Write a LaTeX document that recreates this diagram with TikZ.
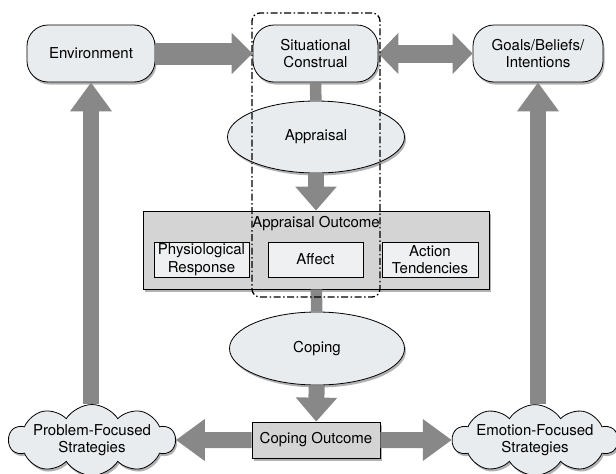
\documentclass[tikz,border=0pt]{standalone}
\usepackage{fontspec}
\setmainfont{TeX Gyre Heros}
\usetikzlibrary{shapes.geometric,shapes.symbols,shadows,arrows.meta}
\definecolor{nodefill}{HTML}{E9ECEE}
\definecolor{outfill}{HTML}{D4D4D4}
\definecolor{subfill}{HTML}{EEF0F1}
\definecolor{arrowgray}{HTML}{888888}
\tikzset{
  txt/.style={font=\fontsize{15}{17.5}\selectfont, align=center},
  shad/.style={drop shadow={shadow xshift=1.5pt, shadow yshift=-2.5pt, opacity=0.3, fill=black}},
  roundbox/.style={txt, draw=black, line width=0.8pt, fill=nodefill, rounded corners=21pt, minimum height=57pt, inner sep=2pt, shad},
  ell/.style={txt, ellipse, draw=black, line width=0.8pt, fill=nodefill, inner sep=0pt, shad},
  outbox/.style={draw=black, line width=0.8pt, fill=outfill, inner sep=0pt, shad},
  subbox/.style={txt, draw=black, line width=0.8pt, fill=subfill, minimum width=95pt, minimum height=35pt, inner sep=0pt},
  cloudnode/.style={txt, cloud, cloud puffs=10, cloud puff arc=115, cloud ignores aspect, draw=black, line width=0.8pt, fill=nodefill, inner sep=0pt, shad},
  bigarrow/.style={draw=arrowgray, line width=16pt, -{Triangle[width=40pt,length=24pt]}},
  widearrow/.style={draw=arrowgray, line width=22pt, -{Triangle[width=40pt,length=21pt]}},
  longarrow/.style={draw=arrowgray, line width=16pt, -{Triangle[width=40pt,length=29pt]}},
  dblarrow/.style={draw=arrowgray, line width=18pt, {Triangle[width=40pt,length=20pt]}-{Triangle[width=40pt,length=20pt]}},
  stub/.style={draw=arrowgray, line width=11.5pt},
  grpbox/.style={draw=black, line width=1.3pt, rounded corners=8pt, dash pattern=on 7pt off 2.5pt on 1.5pt off 2.5pt, inner sep=0pt}
}
\begin{document}
\begin{tikzpicture}[x=1pt,y=-1pt]
\useasboundingbox (0,0) rectangle (616,474);
% top row
\node[roundbox, minimum width=128pt] (env) at (91,53.5) {Environment};
\node[roundbox, minimum width=125pt] (sit) at (315.5,53.5) {Situational\\Construal};
\node[roundbox, minimum width=130pt] (goals) at (538,53.5) {Goals/Beliefs/\\Intentions};
% appraisal
\node[ell, minimum width=177pt, minimum height=72pt] (appr) at (316,137) {Appraisal};
% appraisal outcome
\node[outbox, minimum width=346pt, minimum height=78pt] (ao) at (316,250) {};
\node[txt, inner sep=0pt] (aolab) at (316,224) {Appraisal Outcome};
\node[subbox] (phys) at (201.5,259.5) {Physiological\\Response};
\node[subbox] (affect) at (315.5,259.5) {Affect};
\node[subbox, minimum width=96pt] (action) at (430,259.5) {Action\\Tendencies};
% coping
\node[ell, minimum width=175pt, minimum height=73pt] (coping) at (317,348.5) {Coping};
\node[outbox, txt, minimum width=128pt, minimum height=36pt] (co) at (316,440) {Coping Outcome};
% clouds
\node[cloudnode, minimum width=165pt, minimum height=64pt] (pcloud) at (92,440) {Problem-Focused\\Strategies};
\node[cloudnode, minimum width=158pt, minimum height=64pt] (ecloud) at (535,440) {Emotion-Focused\\Strategies};
% connectors
\draw[widearrow] (env) -- (sit);
\draw[dblarrow] (sit) -- (goals);
\draw[stub] (sit) -- (appr);
\draw[bigarrow] (appr) -- (ao);
\draw[stub] (ao) -- (coping);
\draw[bigarrow] (coping) -- (co);
\draw[longarrow] (co) -- (pcloud);
\draw[longarrow] (co) -- (ecloud);
\draw[longarrow] (pcloud.north -| env.south) -- (env.south);
\draw[longarrow] (ecloud.north -| goals.south) -- (goals.south);
% group outline
\node[grpbox, minimum width=128pt, minimum height=284pt] (grp) at (316,155) {};
\end{tikzpicture}
\end{document}
